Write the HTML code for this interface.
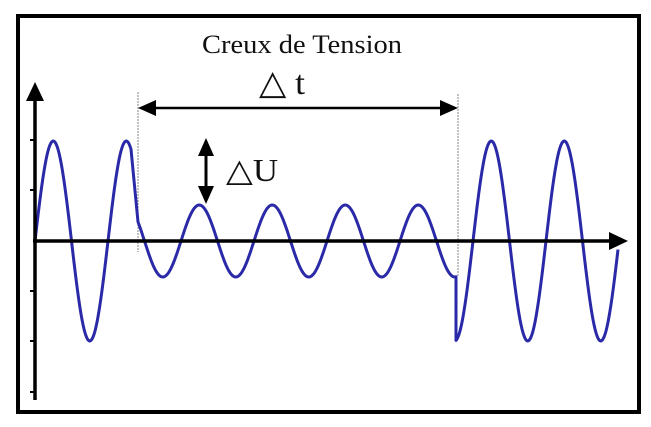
<!DOCTYPE html>
<html><head><meta charset="utf-8"><style>
html,body{margin:0;padding:0;background:#fff;}
svg{display:block;}
text{font-family:"Liberation Serif","DejaVu Serif",serif;fill:#111;}
</style></head><body>
<svg id="s" width="651" height="427" viewBox="0 0 651 427" xmlns="http://www.w3.org/2000/svg">
<rect x="18" y="16" width="621" height="396" fill="none" stroke="#000" stroke-width="4"/>
<line x1="138" y1="92" x2="138" y2="252" stroke="#999" stroke-width="1.2" stroke-dasharray="2,1"/>
<line x1="458" y1="94" x2="458" y2="276" stroke="#999" stroke-width="1.2" stroke-dasharray="2,1"/>
<path id="w" fill="none" stroke="#2a2aa8" stroke-width="3" stroke-linejoin="round"/>
<line x1="35" y1="98" x2="35" y2="400" stroke="#000" stroke-width="3.5"/>
<polygon points="35,82 26,101 44,101" fill="#000"/>
<line x1="33" y1="241" x2="612" y2="241" stroke="#000" stroke-width="3.5"/>
<polygon points="628,241 609,232 609,250" fill="#000"/>
<g stroke="#000" stroke-width="2">
<line x1="30" y1="140" x2="35" y2="140"/><line x1="30" y1="190" x2="35" y2="190"/>
<line x1="30" y1="291" x2="35" y2="291"/><line x1="30" y1="341" x2="35" y2="341"/><line x1="30" y1="392" x2="35" y2="392"/>
</g>
<line x1="150" y1="108" x2="446" y2="108" stroke="#000" stroke-width="2.5"/>
<polygon points="138,108 156,100 156,116" fill="#000"/>
<polygon points="458,108 440,100 440,116" fill="#000"/>
<line x1="206" y1="150" x2="206" y2="192" stroke="#000" stroke-width="3"/>
<polygon points="206,138 198,156 214,156" fill="#000"/>
<polygon points="206,204 198,186 214,186" fill="#000"/>
<text x="202" y="53" font-size="26" textLength="200" lengthAdjust="spacingAndGlyphs">Creux de Tension</text>
<text x="259" y="94" font-size="34" textLength="46" lengthAdjust="spacingAndGlyphs">△ t</text>
<text x="226" y="181" font-size="32" textLength="52" lengthAdjust="spacingAndGlyphs">△U</text>
</svg>
<script>
var d="";
for(var x=35;x<=618;x+=1){
 var s=Math.sin(2*Math.PI*(x-35)/73);
 var a=(x>138&&x<=456)?36:100;
 var y=241-a*s;
 if(x==457){d+=" L456 "+(241-100*Math.sin(2*Math.PI*(456-35)/73)).toFixed(1);}
 if(x>=131&&x<=138){var y1=241-100*Math.sin(2*Math.PI*(131-35)/73);var y2=241-36*Math.sin(2*Math.PI*(138-35)/73);y=y1+(y2-y1)*(x-131)/7;}
 d+=(x==35?"M":" L")+x+" "+y.toFixed(1);
}
document.getElementById("w").setAttribute("d",d);
</script>
</body></html>
